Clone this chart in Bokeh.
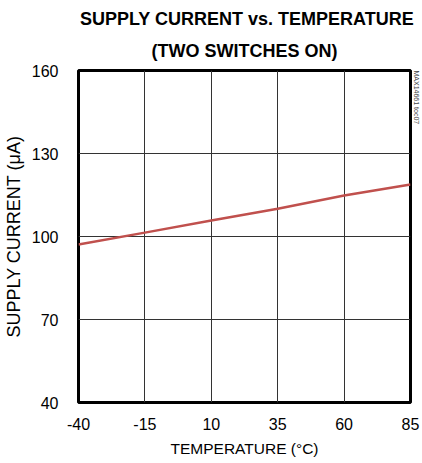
import math
from bokeh.plotting import figure
from bokeh.models import FixedTicker, Label, Range1d, Title
from bokeh.embed import file_html
from bokeh.resources import INLINE

temps = [-40, -15, 10, 35, 60, 85]
current = [97.1, 101.4, 105.8, 110.0, 114.8, 118.8]
x_ticks = [-40, -15, 10, 35, 60, 85]
x_tick_labels = ["-40", "-15", "10", "35", "60", "85"]
y_ticks = [40, 70, 100, 130, 160]

FONT = "Liberation Sans"

p = figure(frame_width=332, frame_height=332, output_backend="svg", toolbar_location=None,
           x_range=Range1d(-40, 85), y_range=Range1d(40, 160),
           min_border_left=78, min_border_right=9, min_border_top=70, min_border_bottom=52)

p.title.text = "SUPPLY CURRENT vs. TEMPERATURE"
p.title.align = "center"
p.title.text_font = FONT
p.title.text_font_size = "18px"
p.title.text_font_style = "bold"
p.title.text_color = "black"
p.title.standoff = 0
try:
    p.title.padding = (5, 0, 0, 0)
except Exception:
    pass
try:
    p.title.padding = (5, 0, -7, 0)
except Exception:
    pass
t2 = Title(text="(TWO SWITCHES ON)", align="center", text_font=FONT,
           text_font_size="18px", text_font_style="bold", text_color="black", standoff=20)
p.add_layout(t2, "above")

wm = Title(text="MAX14661 toc07", align="left", text_font=FONT, text_font_size="7px",
           text_font_style="normal", text_color="#444444", standoff=4)
p.add_layout(wm, "right")

p.outline_line_color = "black"
p.outline_line_width = 3
p.outline_line_alpha = 1

for ax in (p.xaxis, p.yaxis):
    ax.axis_line_color = None
    ax.major_tick_line_color = None
    ax.minor_tick_line_color = None
    ax.major_label_text_font = FONT
    ax.major_label_text_font_size = "16px"
    ax.major_label_text_color = "black"
    ax.axis_label_text_font = FONT
    ax.axis_label_text_font_style = "normal"
    ax.axis_label_text_color = "black"

p.xaxis.ticker = FixedTicker(ticks=x_ticks)
p.xaxis.major_label_overrides = {t: s for t, s in zip(x_ticks, x_tick_labels)}
p.yaxis.ticker = FixedTicker(ticks=y_ticks)
p.xaxis.axis_label = "TEMPERATURE (°C)"
p.yaxis.axis_label = "SUPPLY CURRENT (μA)"
p.xaxis.axis_label_text_font_size = "15.5px"
p.yaxis.axis_label_text_font_size = "18px"
p.xaxis.major_label_standoff = 9
p.yaxis.major_label_standoff = 14
p.xaxis.axis_label_standoff = 7
p.yaxis.axis_label_standoff = 5

p.xgrid.ticker = FixedTicker(ticks=x_ticks)
p.ygrid.ticker = FixedTicker(ticks=y_ticks)
for g in (p.xgrid, p.ygrid):
    g.grid_line_color = "#333333"
    g.grid_line_width = 1

p.line(temps, current, line_color="#c0504d", line_width=2.5)

open("out.html", "w").write(file_html(p, INLINE))
